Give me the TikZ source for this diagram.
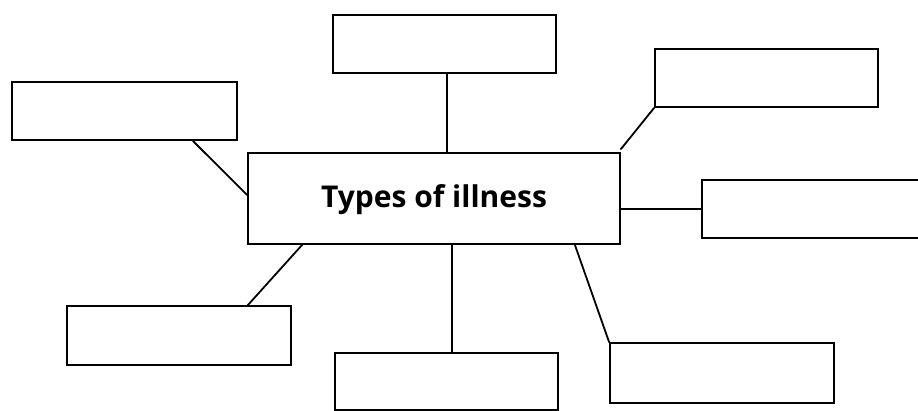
\documentclass[tikz,border=0pt]{standalone}
\usepackage{fontspec}
\setmainfont{Open Sans}
\begin{document}
\begin{tikzpicture}[x=1pt,y=1pt,
  box/.style={draw=black, line width=1.8pt, rectangle, inner sep=0pt, fill=white},
  conn/.style={draw=black, line width=1.8pt, line cap=round}]
\useasboundingbox (0,0) rectangle (918,-410);
\clip (0,0) rectangle (918,-410);
\fill[white] (0,0) rectangle (918,-410);
% centre box
\node[box, minimum width=372pt, minimum height=91pt] (c) at (434,-198.5) {};
\node[font=\bfseries\fontsize{30}{34}\selectfont, inner sep=0pt] (lbl) at ([yshift=-1pt]c.center) {Types of illness};
% outer boxes
\node[box, minimum width=223pt, minimum height=58pt] (t)  at (444.5,-44) {};
\node[box, minimum width=223pt, minimum height=58pt] (tr) at (766.5,-78) {};
\node[box, minimum width=225pt, minimum height=58pt] (l)  at (124.5,-111) {};
\node[box, minimum width=223pt, minimum height=58pt] (r)  at (813.5,-209) {};
\node[box, minimum width=224pt, minimum height=59pt] (bl) at (179,-335.5) {};
\node[box, minimum width=223pt, minimum height=57pt] (bm) at (446.5,-381.5) {};
\node[box, minimum width=224pt, minimum height=60pt] (br) at (722,-373) {};
% connectors
\draw[conn] ([xshift=2.5pt]t.south) -- ([xshift=2.5pt]t.south |- c.north);
\draw[conn] (tr.south west) -- ([yshift=3pt]c.north east);
\draw[conn] (r.west -| c.east) -- (r.west);
\draw[conn] ([xshift=-45pt]l.south east) -- ([yshift=3.5pt]c.west);
\draw[conn] ([xshift=-44pt]bl.north east) -- ([xshift=55pt]c.south west);
\draw[conn] ([xshift=5.5pt]bm.north) -- ([xshift=5.5pt]bm.north |- c.south);
\draw[conn] ([xshift=-46pt]c.south east) -- (br.north west);
\end{tikzpicture}
\end{document}
